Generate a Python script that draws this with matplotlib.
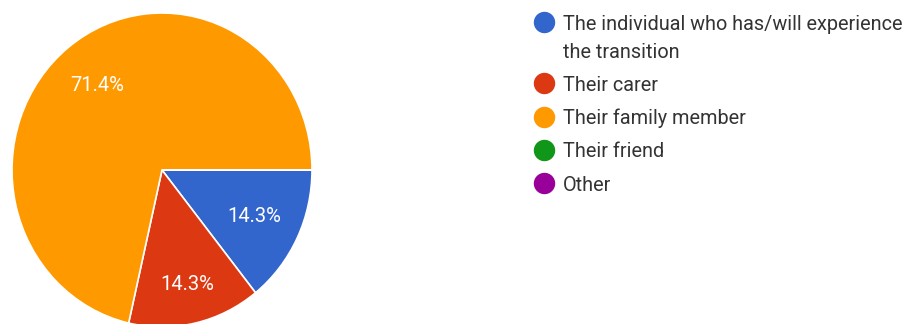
import matplotlib

matplotlib.use("Agg")
import matplotlib.pyplot as plt
import numpy as np

plt.rcParams["font.family"] = ["Roboto", "DejaVu Sans"]

categories = [
    "The individual who has/will experience\nthe transition",
    "Their carer",
    "Their family member",
    "Their friend",
    "Other",
]
responses = [1, 1, 5, 0, 0]
colors = ["#3366CC", "#DC3912", "#FF9900", "#109618", "#990099"]
label_distance = [0.68, 0.75, 0.69, 0.7, 0.7]

W, H = 911, 324
fig = plt.figure(figsize=(W / 100, H / 100), dpi=100)

# pie axes in pixel units: centre (162, 170), radii 150 x 157
cx, cy, rx, ry = 162, 170, 150, 157
ax = fig.add_axes([(cx - rx) / W, 1 - (cy + ry) / H, 2 * rx / W, 2 * ry / H])


def pct_label(pct):
    return f"{pct:.1f}%" if pct > 0 else ""


wedges, _, autotexts = ax.pie(
    responses,
    colors=colors,
    startangle=0,
    counterclock=False,
    autopct=pct_label,
    pctdistance=0.7,
    radius=1,
    wedgeprops={"edgecolor": "white", "linewidth": 1.2},
    textprops={"color": "white", "fontsize": 14.5},
)
# nudge each percentage label along its wedge's mid angle
for w, t, d in zip(wedges, autotexts, label_distance):
    mid = np.deg2rad((w.theta1 + w.theta2) / 2)
    t.set_position((d * np.cos(mid), d * np.sin(mid)))
ax.set_aspect("auto")
ax.set_xlim(-1, 1)
ax.set_ylim(-1, 1)

# legend drawn in pixel coordinates
lax = fig.add_axes([0, 0, 1, 1])
lax.set_xlim(0, W)
lax.set_ylim(H, 0)
lax.axis("off")
marker_x, text_x = 544, 563
y, line_step, entry_gap = 22, 28, 5.3
for name, c in zip(categories, colors):
    lax.plot(marker_x, y, "o", markersize=14.4, color=c)
    for line in name.split("\n"):
        lax.text(text_x, y, line, fontsize=14.3, color="#333333",
                 va="center_baseline", ha="left")
        y += line_step
    y += entry_gap

fig.savefig("out.png", dpi=100)
